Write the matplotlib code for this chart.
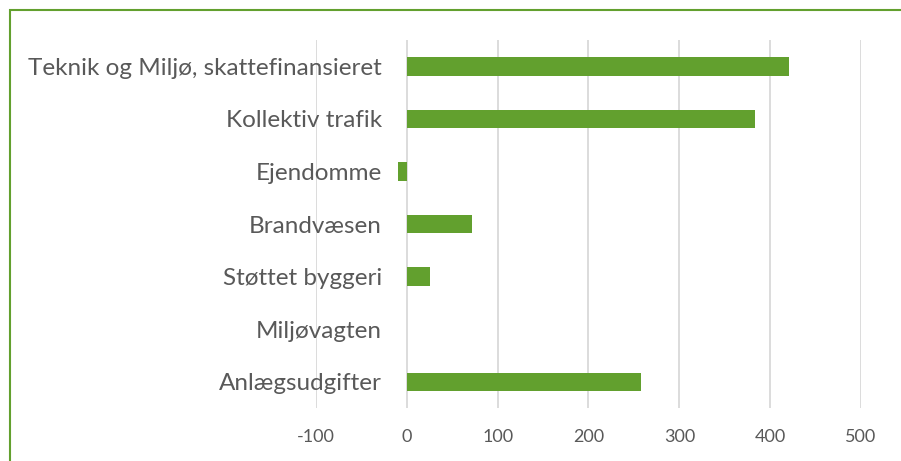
import matplotlib.pyplot as plt
from matplotlib.patches import Rectangle

categories = ['Teknik og Miljø, skattefinansieret', 'Kollektiv trafik', 'Ejendomme',
              'Brandvæsen', 'Støttet byggeri', 'Miljøvagten', 'Anlægsudgifter']
values = [421, 383, -10, 72, 26, 0, 258]
xticks = [-100, 0, 100, 200, 300, 400, 500]

green = '#62A02E'
text_col = '#595959'
plt.rcParams['font.family'] = ['Lato', 'DejaVu Sans']

fig = plt.figure(figsize=(9.01, 4.61), dpi=100)
ax = fig.add_axes([0.3507, 0.115, 0.6049, 0.798])

ypos = list(range(len(categories)))[::-1]
ax.barh(ypos, values, height=0.35, color=green, zorder=3)

# category labels sit beside the zero line, as in Excel
ax.spines['left'].set_position(('data', 0))
for s in ax.spines.values():
    s.set_visible(False)

ax.set_xlim(-100, 500)
ax.set_ylim(-0.5, 6.5)
ax.set_xticks(xticks)
ax.set_xticklabels([str(t) for t in xticks], fontsize=13, color=text_col)
ax.set_yticks(ypos)
ax.set_yticklabels(categories, fontsize=17.5, color=text_col)
ax.tick_params(axis='y', length=0, pad=18)
ax.tick_params(axis='x', length=0, pad=15)
ax.grid(axis='x', color='#D9D9D9', linewidth=1.3, zorder=0)

# green frame round the chart (cut off at right and bottom)
fig.patches.append(Rectangle((10 / 901, -0.1), 1.2, 1 - 10 / 461 + 0.1,
                             transform=fig.transFigure, fill=False,
                             edgecolor=green, linewidth=1.5))

fig.savefig('out.png', dpi=100)
